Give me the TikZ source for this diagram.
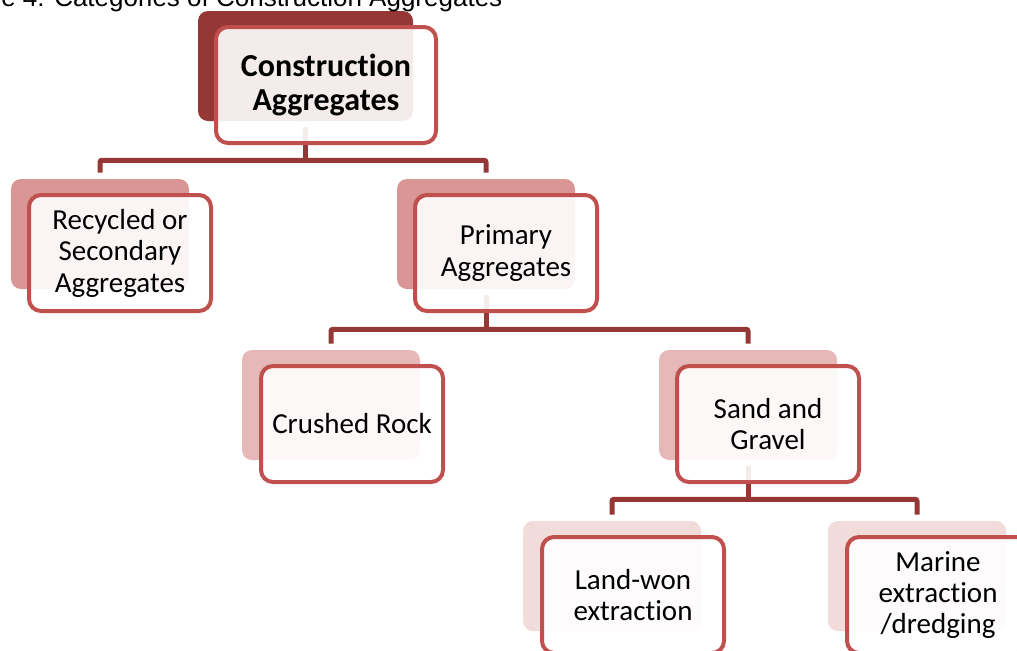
\documentclass[tikz,border=0pt]{standalone}
\usepackage{fontspec}
\setmainfont{Carlito}[Ligatures=NoCommon]
\newfontfamily\capfont{Liberation Sans}
\usetikzlibrary{calc}
\definecolor{rootred}{HTML}{953735}
\definecolor{edgered}{HTML}{C0504D}
\definecolor{lvlone}{HTML}{D99694}
\definecolor{lvltwo}{HTML}{E6B9B8}
\definecolor{lvlthree}{HTML}{F2DCDB}
\tikzset{
    backbox/.style={rectangle,rounded corners=7.5pt,minimum width=133.5pt,minimum height=82.5pt,inner sep=0pt,fill=#1},
    frontbox/.style={rectangle,rounded corners=9pt,draw=edgered,line width=3pt,fill=white,fill opacity=0.9,text opacity=1,
        minimum width=136.5pt,minimum height=87pt,inner sep=0pt,align=center,font=\fontsize{21.75}{23.6}\selectfont},
    link/.style={draw=rootred,line width=3.75pt,rounded corners=1.5pt}
}

\begin{document}
\begin{tikzpicture}[x=0.75pt,y=-0.75pt]
\useasboundingbox (0,0) rectangle (1017,650);
\clip (0,0) rectangle (1017,650);
% shadow boxes
\node[backbox=rootred,minimum width=161.25pt] (root-b) at (305.5,66) {};
\node[backbox=lvlone] (recyc-b) at (100,234) {};
\node[backbox=lvlone] (prim-b) at (486,234) {};
\node[backbox=lvltwo] (crush-b) at (331,405) {};
\node[backbox=lvltwo] (sand-b) at (748,405) {};
\node[backbox=lvlthree] (land-b) at (612,576) {};
\node[backbox=lvlthree] (marine-b) at (917,576) {};
% connectors
\draw[link,shorten <=4.5pt] (root-b.south) -- ++(0,39) coordinate (j0);
\draw[link,shorten <=4.5pt,shorten >=4.5pt] (recyc-b.north) |- (j0) -| (prim-b.north);
\draw[link,shorten <=4.5pt] (prim-b.south) -- ++(0,40) coordinate (j1);
\draw[link,shorten <=4.5pt,shorten >=4.5pt] (crush-b.north) |- (j1) -| (sand-b.north);
\draw[link,shorten <=4.5pt] (sand-b.south) -- ++(0,39) coordinate (j2);
\draw[link,shorten <=4.5pt,shorten >=4.5pt] (land-b.north) |- (j2) -| (marine-b.north);
% text boxes
\node[frontbox,minimum width=165pt,font=\bfseries\fontsize{24}{25.5}\selectfont] (root) at ($(root-b)+(20.5,19)$) {Construction\\Aggregates};
\node[frontbox] (recyc) at ($(recyc-b)+(20,19)$) {Recycled or\\Secondary\\Aggregates};
\node[frontbox] (prim) at ($(prim-b)+(20,19)$) {Primary\\Aggregates};
\node[frontbox] (crush) at ($(crush-b)+(21,19)$) {Crushed Rock};
\node[frontbox] (sand) at ($(sand-b)+(20,19)$) {Sand and\\Gravel};
\node[frontbox] (land) at ($(land-b)+(21,19)$) {Land-won\\extraction};
\node[frontbox] (marine) at ($(marine-b)+(21,19)$) {Marine\\extraction\\/dredging};
\node[anchor=base west,font=\capfont\fontsize{19.5}{22}\selectfont,inner sep=0pt] (caption) at (1,6) {e 4: Categories of Construction Aggregates};
\end{tikzpicture}
\end{document}
